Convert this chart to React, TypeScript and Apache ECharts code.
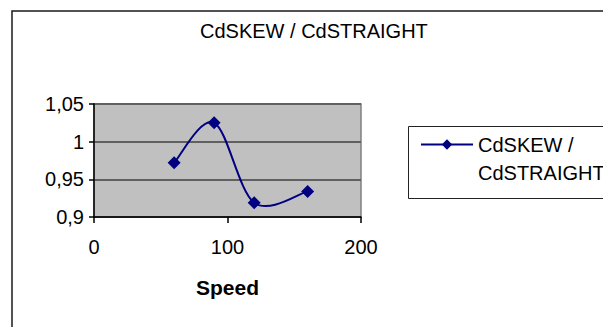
import { useEffect, useRef } from "react";
import * as echarts from "echarts";

// Chart texts
const titleText = "CdSKEW / CdSTRAIGHT";
const seriesName = "CdSKEW /\nCdSTRAIGHT";
const xAxisName = "Speed";

// Measured points: speed vs. discharge-coefficient ratio
const speed = [60, 90, 120, 160];
const cdRatio = [0.972, 1.025, 0.919, 0.934];

// Axis tick values
const xTicks = [0, 100, 200];
const yTicks = [0.9, 0.95, 1, 1.05];

const FONT = "'Liberation Sans', Arial, Helvetica, sans-serif";
const NAVY = "#000080";

export default function App() {
  const ref = useRef<HTMLDivElement>(null);

  useEffect(() => {
    const chart = echarts.init(ref.current!, null, { renderer: "svg" });
    const fmtComma = (v: number) =>
      String(parseFloat(v.toFixed(2))).replace(".", ",");

    const points = speed.map((s, i) => [s, cdRatio[i]]);

    // Smoothed connector: cubic Bezier per segment, tangents from neighbours (Catmull-Rom, 1/6)
    const renderSegment = (params: any, api: any) => {
      const i = params.dataIndex;
      const n = points.length;
      const p = (k: number) => api.coord(points[Math.max(0, Math.min(n - 1, k))]);
      const p0 = p(i - 1);
      const p1 = p(i);
      const p2 = p(i + 1);
      const p3 = p(i + 2);
      return {
        type: "bezierCurve",
        shape: {
          x1: p1[0],
          y1: p1[1],
          x2: p2[0],
          y2: p2[1],
          cpx1: p1[0] + (p2[0] - p0[0]) / 6,
          cpy1: p1[1] + (p2[1] - p0[1]) / 6,
          cpx2: p2[0] - (p3[0] - p1[0]) / 6,
          cpy2: p2[1] - (p3[1] - p1[1]) / 6,
        },
        style: { stroke: NAVY, lineWidth: 2, fill: "none" },
      };
    };

    chart.setOption({
      animation: false,
      backgroundColor: "#ffffff",
      textStyle: { fontFamily: FONT },
      title: {
        text: titleText,
        left: 200,
        top: 21,
        padding: 0,
        textStyle: {
          fontFamily: FONT,
          fontSize: 20,
          fontWeight: "normal",
          color: "#000",
        },
      },
      grid: {
        left: 94,
        top: 104,
        right: 242,
        bottom: 110,
        show: true,
        backgroundColor: "#c0c0c0",
        borderColor: "#808080",
        borderWidth: 1.5,
      },
      legend: {
        left: 420,
        top: 102.5,
        padding: 0,
        itemWidth: 52,
        itemHeight: 13,
        data: [seriesName],
        lineStyle: { color: NAVY, width: 2, opacity: 1 },
        // leading blank line keeps the first text line level with the icon
        formatter: (name: string) => "\n" + name,
        textStyle: {
          fontFamily: FONT,
          fontSize: 20,
          lineHeight: 28,
          color: "#000",
        },
      },
      graphic: [
        {
          type: "rect",
          shape: { x: 12, y: 11, width: 700, height: 400 },
          style: { fill: "none", stroke: "#1a1a1a", lineWidth: 1.5 },
          silent: true,
        },
        {
          type: "rect",
          shape: { x: 408.5, y: 126.5, width: 300, height: 72 },
          style: { fill: "none", stroke: "#222", lineWidth: 1 },
          silent: true,
        },
      ],
      xAxis: {
        type: "value",
        min: xTicks[0],
        max: xTicks[xTicks.length - 1],
        interval: xTicks[1] - xTicks[0],
        name: xAxisName,
        nameLocation: "middle",
        nameGap: 60,
        nameTextStyle: {
          fontFamily: FONT,
          fontSize: 21,
          fontWeight: "bold",
          color: "#000",
        },
        axisLine: { show: true, lineStyle: { color: "#000", width: 1.5 } },
        axisTick: {
          show: true,
          inside: false,
          length: 6,
          lineStyle: { color: "#000", width: 1.5 },
        },
        axisLabel: {
          fontFamily: FONT,
          fontSize: 20,
          color: "#000",
          margin: 20,
        },
        splitLine: { show: false },
      },
      yAxis: {
        type: "value",
        min: yTicks[0],
        max: yTicks[yTicks.length - 1],
        interval: 0.05,
        axisLine: { show: true, lineStyle: { color: "#000", width: 1.5 } },
        axisTick: {
          show: true,
          inside: false,
          length: 5,
          lineStyle: { color: "#000", width: 1.5 },
        },
        axisLabel: {
          fontFamily: FONT,
          fontSize: 20,
          color: "#000",
          margin: 10,
          formatter: fmtComma,
        },
        splitLine: { show: true, lineStyle: { color: "#606060", width: 2 } },
      },
      series: [
        {
          name: "curve",
          type: "custom",
          renderItem: renderSegment,
          data: points.slice(0, -1),
          z: 2,
          silent: true,
        },
        {
          name: seriesName,
          type: "line",
          data: points,
          symbol: "diamond",
          symbolSize: 13,
          itemStyle: { color: NAVY },
          lineStyle: { color: NAVY, width: 2, opacity: 0 },
          z: 3,
        },
      ],
    });

    return () => chart.dispose();
  }, []);

  return (
    <div
      ref={ref}
      style={{ position: "absolute", left: 0, top: 0, width: 603, height: 327 }}
    />
  );
}
